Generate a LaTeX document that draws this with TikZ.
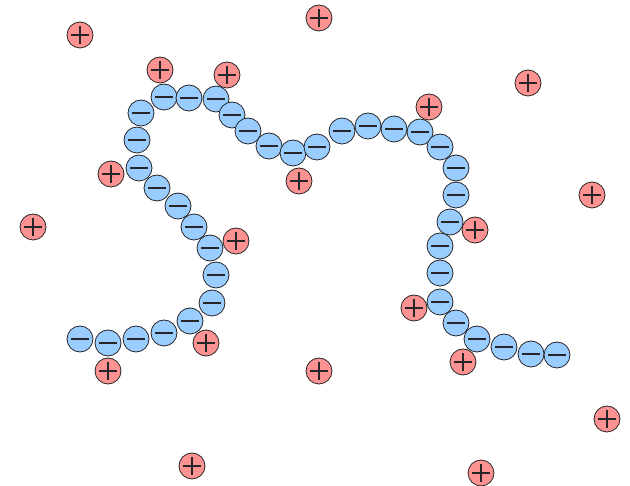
\documentclass[tikz,border=0pt]{standalone}
\usetikzlibrary{calc}

\definecolor{anionblue}{RGB}{153,204,255}
\definecolor{cationred}{RGB}{252,146,146}

\begin{document}
\begin{tikzpicture}[
    x=1pt, y=-1pt,
    ion/.style={circle, draw=black!85, line width=0.8pt, minimum size=26pt, inner sep=0pt},
    anion/.style={ion, fill=anionblue, path picture={
        \draw[line width=2.3pt] ($(path picture bounding box.center)+(-9,0)$) -- ++(18,0);}},
    cation/.style={ion, fill=cationred, path picture={
        \draw[line width=2.3pt] ($(path picture bounding box.center)+(-9,0)$) -- ++(18,0);
        \draw[line width=2.3pt] ($(path picture bounding box.center)+(0,-9)$) -- ++(0,18);}}
]
\useasboundingbox (0,0) rectangle (630,486);

% Polymer chain (negative charges)
\foreach \px/\py [count=\i] in {80/339, 108/343, 136/339, 164/333, 190/321, 212/303, 216/275,
    210/248, 194/227, 178/206, 157/188, 139/168, 137/140, 141/113, 164/97, 189/98, 216/99,
    232/115, 248/131, 269/146, 293/153, 317/147, 342/131, 368/126, 394/129, 420/132, 440/147,
    456/168, 456/195, 450/222, 440/246, 440/273, 440/302, 456/323, 477/339, 504/347, 531/354, 557/355}
    \node[anion] (m\i) at (\px,\py) {};

% Counterions (positive charges)
\foreach \px/\py [count=\i] in {160/70, 227/75, 111/174, 236/241, 206/343, 108/371, 299/181,
    429/107, 475/230, 414/308, 463/362, 80/35, 319/18, 528/83, 592/195, 33/227, 319/371,
    607/419, 192/466, 481/473}
    \node[cation] (p\i) at (\px,\py) {};
\end{tikzpicture}
\end{document}
